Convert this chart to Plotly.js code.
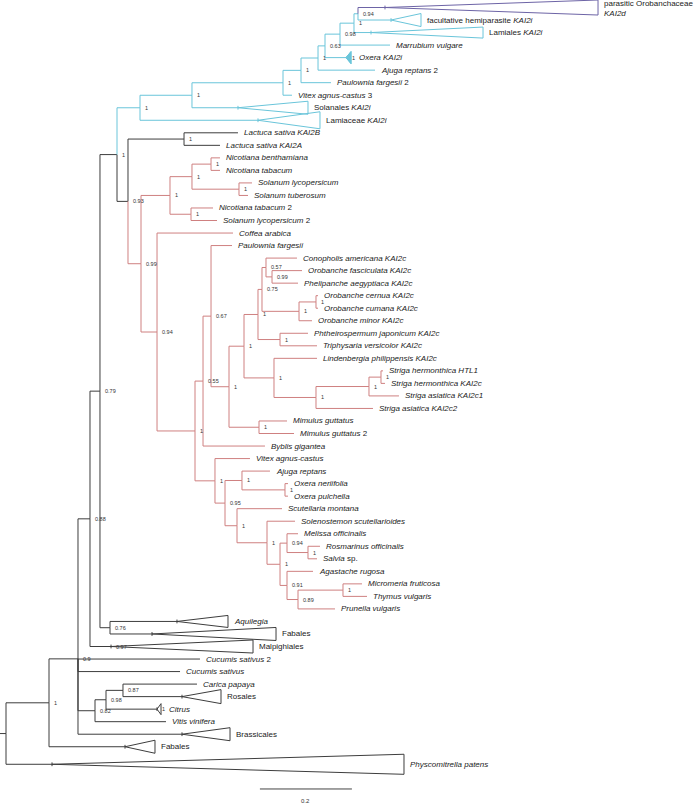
<!DOCTYPE html>
<html>
<head>
<meta charset="utf-8">
<script src="https://cdn.plot.ly/plotly-3.0.1.min.js"></script>
<style>html,body{margin:0;padding:0;background:#fff;}#chart{width:700px;height:803px;}</style>
</head>
<body>
<div id="chart"></div>
<script>
// ---------- internal nodes: id, parent, depth (subst./site from root), support ----------
const nodeIds      = ["root","N1","N09","N088","N079","N076","NA","C1","C2","C3","C4","C5","C6","C65","C7","C8","N093","Lac","R1","SolN","Nn","Nic","Sol","NS2","R2","R3","R4","R5","R6","R7","R8","R9","R10","N099","R11","OC","R12","R13","R14","SA","SH","MG","L1","L2","AO","OX","L3","L4","L5","M1","RS","A1","A2","MT","N082","N098","N087"];
const nodeParents  = ["","root","N1","N09","N088","N079","N079","NA","C1","C2","C3","C4","C5","C6","C65","C7","NA","N093","N093","R1","SolN","Nn","Nn","SolN","R1","R2","R3","R4","R5","R6","R7","R8","R9","R10","R9","R11","R8","R7","R13","R14","SA","R6","R3","L1","L2","AO","L2","L3","L4","L5","M1","L5","A1","A2","N09","N082","N098"];
const nodeDepths   = [0,0.0935,0.1565,0.1826,0.2043,0.2261,0.2413,0.2913,0.4043,0.6022,0.6413,0.6783,0.6935,0.7261,0.7565,0.7652,0.2652,0.3870,0.2935,0.3565,0.4043,0.4457,0.5065,0.4022,0.3283,0.4109,0.4283,0.4457,0.4848,0.5174,0.5478,0.5565,0.5652,0.5783,0.6370,0.6739,0.5957,0.5826,0.6739,0.7891,0.8152,0.5500,0.4543,0.4761,0.5130,0.6065,0.5022,0.5674,0.5957,0.6109,0.6565,0.6109,0.6348,0.7326,0.1935,0.2174,0.2543];
const nodeSupports = ["","1","0.9","0.88","0.79","0.76","1","1","1","1","1","1","0.63","0.98","1","0.94","0.93","1","0.99","1","1","1","1","1","0.94","1","0.55","0.67","1","1","1","0.75","0.57","0.99","1","1","1","1","1","1","1","1","1","0.95","1","1","1","1","1","0.94","1","0.91","0.89","1","0.82","0.98","0.87"];
// clade colouring (inherited by descendants)
const cladeColorIds   = ["C1","R1","T0"];
const cladeColorNames = ["cyan","red","purple"];

// ---------- tips (leaves and collapsed clades) ----------
const tipLabels = [
 "parasitic Orobanchaceae<br><i>KAI2d</i>","facultative hemiparasite <i>KAI2i</i>","Lamiales <i>KAI2i</i>","<i>Marrubium vulgare</i>","<i>Oxera KAI2i</i>",
 "<i>Ajuga reptans</i> 2","<i>Paulownia fargesii</i> 2","<i>Vitex agnus-castus</i> 3","Solanales <i>KAI2i</i>","Lamiaceae <i>KAI2i</i>",
 "<i>Lactuca sativa KAI2B</i>","<i>Lactuca sativa KAI2A</i>","<i>Nicotiana benthamiana</i>","<i>Nicotiana tabacum</i>","<i>Solanum lycopersicum</i>",
 "<i>Solanum tuberosum</i>","<i>Nicotiana tabacum</i> 2","<i>Solanum lycopersicum</i> 2","<i>Coffea arabica</i>","<i>Paulownia fargesii</i>",
 "<i>Conopholis americana KAI2c</i>","<i>Orobanche fasciculata KAI2c</i>","<i>Phelipanche aegyptiaca KAI2c</i>","<i>Orobanche cernua KAI2c</i>","<i>Orobanche cumana KAI2c</i>",
 "<i>Orobanche minor KAI2c</i>","<i>Phtheirospermum japonicum KAI2c</i>","<i>Triphysaria versicolor KAI2c</i>","<i>Lindenbergia philippensis KAI2c</i>","<i>Striga hermonthica HTL1</i>",
 "<i>Striga hermonthica KAI2c</i>","<i>Striga asiatica KAI2c1</i>","<i>Striga asiatica KAI2c2</i>","<i>Mimulus guttatus</i>","<i>Mimulus guttatus</i> 2",
 "<i>Byblis gigantea</i>","<i>Vitex agnus-castus</i>","<i>Ajuga reptans</i>","<i>Oxera neriifolia</i>","<i>Oxera pulchella</i>",
 "<i>Scutellaria montana</i>","<i>Solenostemon scutellarioides</i>","<i>Melissa officinalis</i>","<i>Rosmarinus officinalis</i>","<i>Salvia</i> sp.",
 "<i>Agastache rugosa</i>","<i>Micromeria fruticosa</i>","<i>Thymus vulgaris</i>","<i>Prunella vulgaris</i>","<i>Aquilegia</i>",
 "Fabales","Malpighiales","<i>Cucumis sativus</i> 2","<i>Cucumis sativus</i>","<i>Carica papaya</i>",
 "Rosales","<i>Citrus</i>","<i>Vitis vinifera</i>","Brassicales","Fabales","<i>Physcomitrella patens</i>"];
const tipParents = ["C8","C8","C7","C65","C6","C5","C4","C3","C2","C1","Lac","Lac","Nic","Nic","Sol","Sol","NS2","NS2","R2","R5",
 "R10","N099","N099","OC","OC","R11","R12","R12","R13","SH","SH","SA","R14","MG","MG","R4","L1","AO","OX","OX",
 "L3","L4","M1","RS","RS","A1","MT","MT","A2","N076","N076","N088","N09","N09","N087","N087","N098","N082","N09","N1","root"];
const tipDepths = [0.8239,0.8370,0.7935,0.8348,0.7391,0.8022,0.7065,0.6217,0.5043,0.5478,0.5043,0.4652,0.4652,0.4652,0.5348,0.5261,0.4500,0.4587,0.4935,0.4913,
 0.6326,0.6435,0.6348,0.6783,0.6783,0.6652,0.6565,0.6761,0.6761,0.8196,0.8239,0.8543,0.7978,0.6109,0.6261,0.5630,0.5304,0.5739,0.6130,0.6130,
 0.6000,0.6283,0.6348,0.6826,0.6761,0.6674,0.7739,0.7848,0.7152,0.3717,0.3174,0.2283,0.4217,0.3783,0.4152,0.3826,0.3283,0.3478,0.3826,0.2587,0.1000];
const tipRows = [0,1,2,3,4,5,6,7,8,9,10,11,12,13,14,15,16,17,18,19,20,21,22,23,24,25,26,27,28,29,30,31,32,33,34,35,36,37,38,39,
 40,41,42,43,44,45,46,47,48,49,50,51,52,53,54,55,56,57,58,59,60.4];
// collapsed clades: deepest extent and half-height (rows)
const collapsedTips  = [0,1,2,4,8,9,49,50,51,55,56,58,59,60];
const collapsedEnds  = [1.2870,0.9022,1.0370,0.7500,0.6565,0.6826,0.4826,0.5870,0.5370,0.4674,0.3370,0.4870,0.3239,0.8652];
const collapsedHalfs = [0.60,0.52,0.44,0.48,0.52,0.68,0.48,0.52,0.52,0.56,0.44,0.52,0.52,0.80];
const collapsedSupports = ["","","","1","","","","","0.97","","1","","",""];
const filledTips = [4];
const scaleBarLength = 0.2;

// ---------- build tree ----------
const nodes = {};
nodeIds.forEach((id,i)=>{ nodes[id]={id,parent:nodeParents[i],depth:nodeDepths[i],support:nodeSupports[i],children:[]}; });
tipLabels.forEach((lab,i)=>{ nodes["T"+i]={id:"T"+i,parent:tipParents[i],depth:tipDepths[i],row:tipRows[i],children:[],tip:i}; });
Object.values(nodes).forEach(n=>{ if(n.parent) nodes[n.parent].children.push(n); });
cladeColorIds.forEach((id,i)=>{ nodes[id].color=cladeColorNames[i]; });
function yOf(n){ if(n.y!==undefined) return n.y; if(n.tip!==undefined){n.y=n.row;return n.y;} n.y=n.children.reduce((s,c)=>s+yOf(c),0)/n.children.length; return n.y; }
function colOf(n){ if(n.color) return n.color; if(!n.parent) return "black"; return colOf(nodes[n.parent]); }
yOf(nodes.root);

const palette = {black:"#3d3d3d", cyan:"#6ac5da", red:"#cf8080", purple:"#6d64a6"};
const segs = {black:{x:[],y:[]},cyan:{x:[],y:[]},red:{x:[],y:[]},purple:{x:[],y:[]}};
Object.values(nodes).forEach(n=>{
  if(!n.parent) return;
  const p=nodes[n.parent], s=segs[colOf(n)];
  s.x.push(p.depth,p.depth,n.depth,null); s.y.push(p.y,n.y,n.y,null);
});
// root stub
segs.black.x.push(-0.013,0,null); segs.black.y.push(nodes.root.y,nodes.root.y,null);
// collapsed triangles
collapsedTips.forEach((t,k)=>{
  const n=nodes["T"+t], s=segs[colOf(n)], h=collapsedHalfs[k], e=collapsedEnds[k];
  s.x.push(n.depth,e,e,n.depth,null); s.y.push(n.y,n.y-h,n.y+h,n.y,null);
  if(filledTips.indexOf(t)<0){ s.x.push(n.depth,n.depth,null); s.y.push(n.y-0.15,n.y+0.15,null); }
});
const traces=[];
Object.keys(segs).forEach(c=>{
  traces.push({type:"scatter",mode:"lines",x:segs[c].x,y:segs[c].y,line:{color:palette[c],width:1},hoverinfo:"skip",showlegend:false});
});
filledTips.forEach(t=>{
  const k=collapsedTips.indexOf(t), n=nodes["T"+t], h=collapsedHalfs[k], e=collapsedEnds[k];
  traces.push({type:"scatter",mode:"lines",x:[n.depth,e,e,n.depth],y:[n.y,n.y-h,n.y+h,n.y],fill:"toself",fillcolor:palette[colOf(n)],line:{color:palette[colOf(n)],width:1},hoverinfo:"skip",showlegend:false});
});
// scale bar
const sbX0=0.552, sbRow=62.37;
traces.push({type:"scatter",mode:"lines",x:[sbX0,sbX0+scaleBarLength],y:[sbRow,sbRow],line:{color:"#444",width:1},hoverinfo:"skip",showlegend:false});

// ---------- labels ----------
const FONT="Liberation Sans, Arial, Helvetica, sans-serif";
const ann=[];
tipLabels.forEach((lab,i)=>{
  const n=nodes["T"+i]; const k=collapsedTips.indexOf(i);
  const x = k>=0 ? collapsedEnds[k] : n.depth;
  const hasSup = k>=0 && collapsedSupports[k] && (i===4||i===56);
  ann.push({x:x,y:n.y,text:lab,xanchor:"left",yanchor:"middle",showarrow:false,xshift:hasSup?6:4,yshift:(i===0?-1:0),
    font:{family:FONT,size:8,color:"#222"},align:"left"});
});
collapsedTips.forEach((t,k)=>{
  if(!collapsedSupports[k]) return;
  const n=nodes["T"+t];
  const inner=(t===4||t===56);
  ann.push({x:inner?collapsedEnds[k]:n.depth,y:n.y,text:collapsedSupports[k],xanchor:"left",yanchor:"middle",showarrow:false,xshift:inner?-1:3,
    font:{family:FONT,size:5.5,color:"#333"}});
});
nodeIds.forEach((id,i)=>{
  const n=nodes[id]; if(!n.support) return;
  ann.push({x:n.depth,y:n.y,text:n.support,xanchor:"left",yanchor:"middle",showarrow:false,xshift:3,
    font:{family:FONT,size:5.5,color:"#333"}});
});
ann.push({x:sbX0+scaleBarLength/2,y:63.33,text:String(scaleBarLength),xanchor:"center",yanchor:"middle",showarrow:false,
  font:{family:FONT,size:6,color:"#333"}});

const layout={
  width:700,height:803,margin:{l:0,r:0,t:0,b:0},paper_bgcolor:"#fff",plot_bgcolor:"#fff",
  xaxis:{range:[-0.01304,1.5087],visible:false,fixedrange:true},
  yaxis:{range:[63.49,-0.599],visible:false,fixedrange:true},
  annotations:ann,showlegend:false
};
Plotly.newPlot("chart",traces,layout,{staticPlot:true,displayModeBar:false});
</script>
</body>
</html>
